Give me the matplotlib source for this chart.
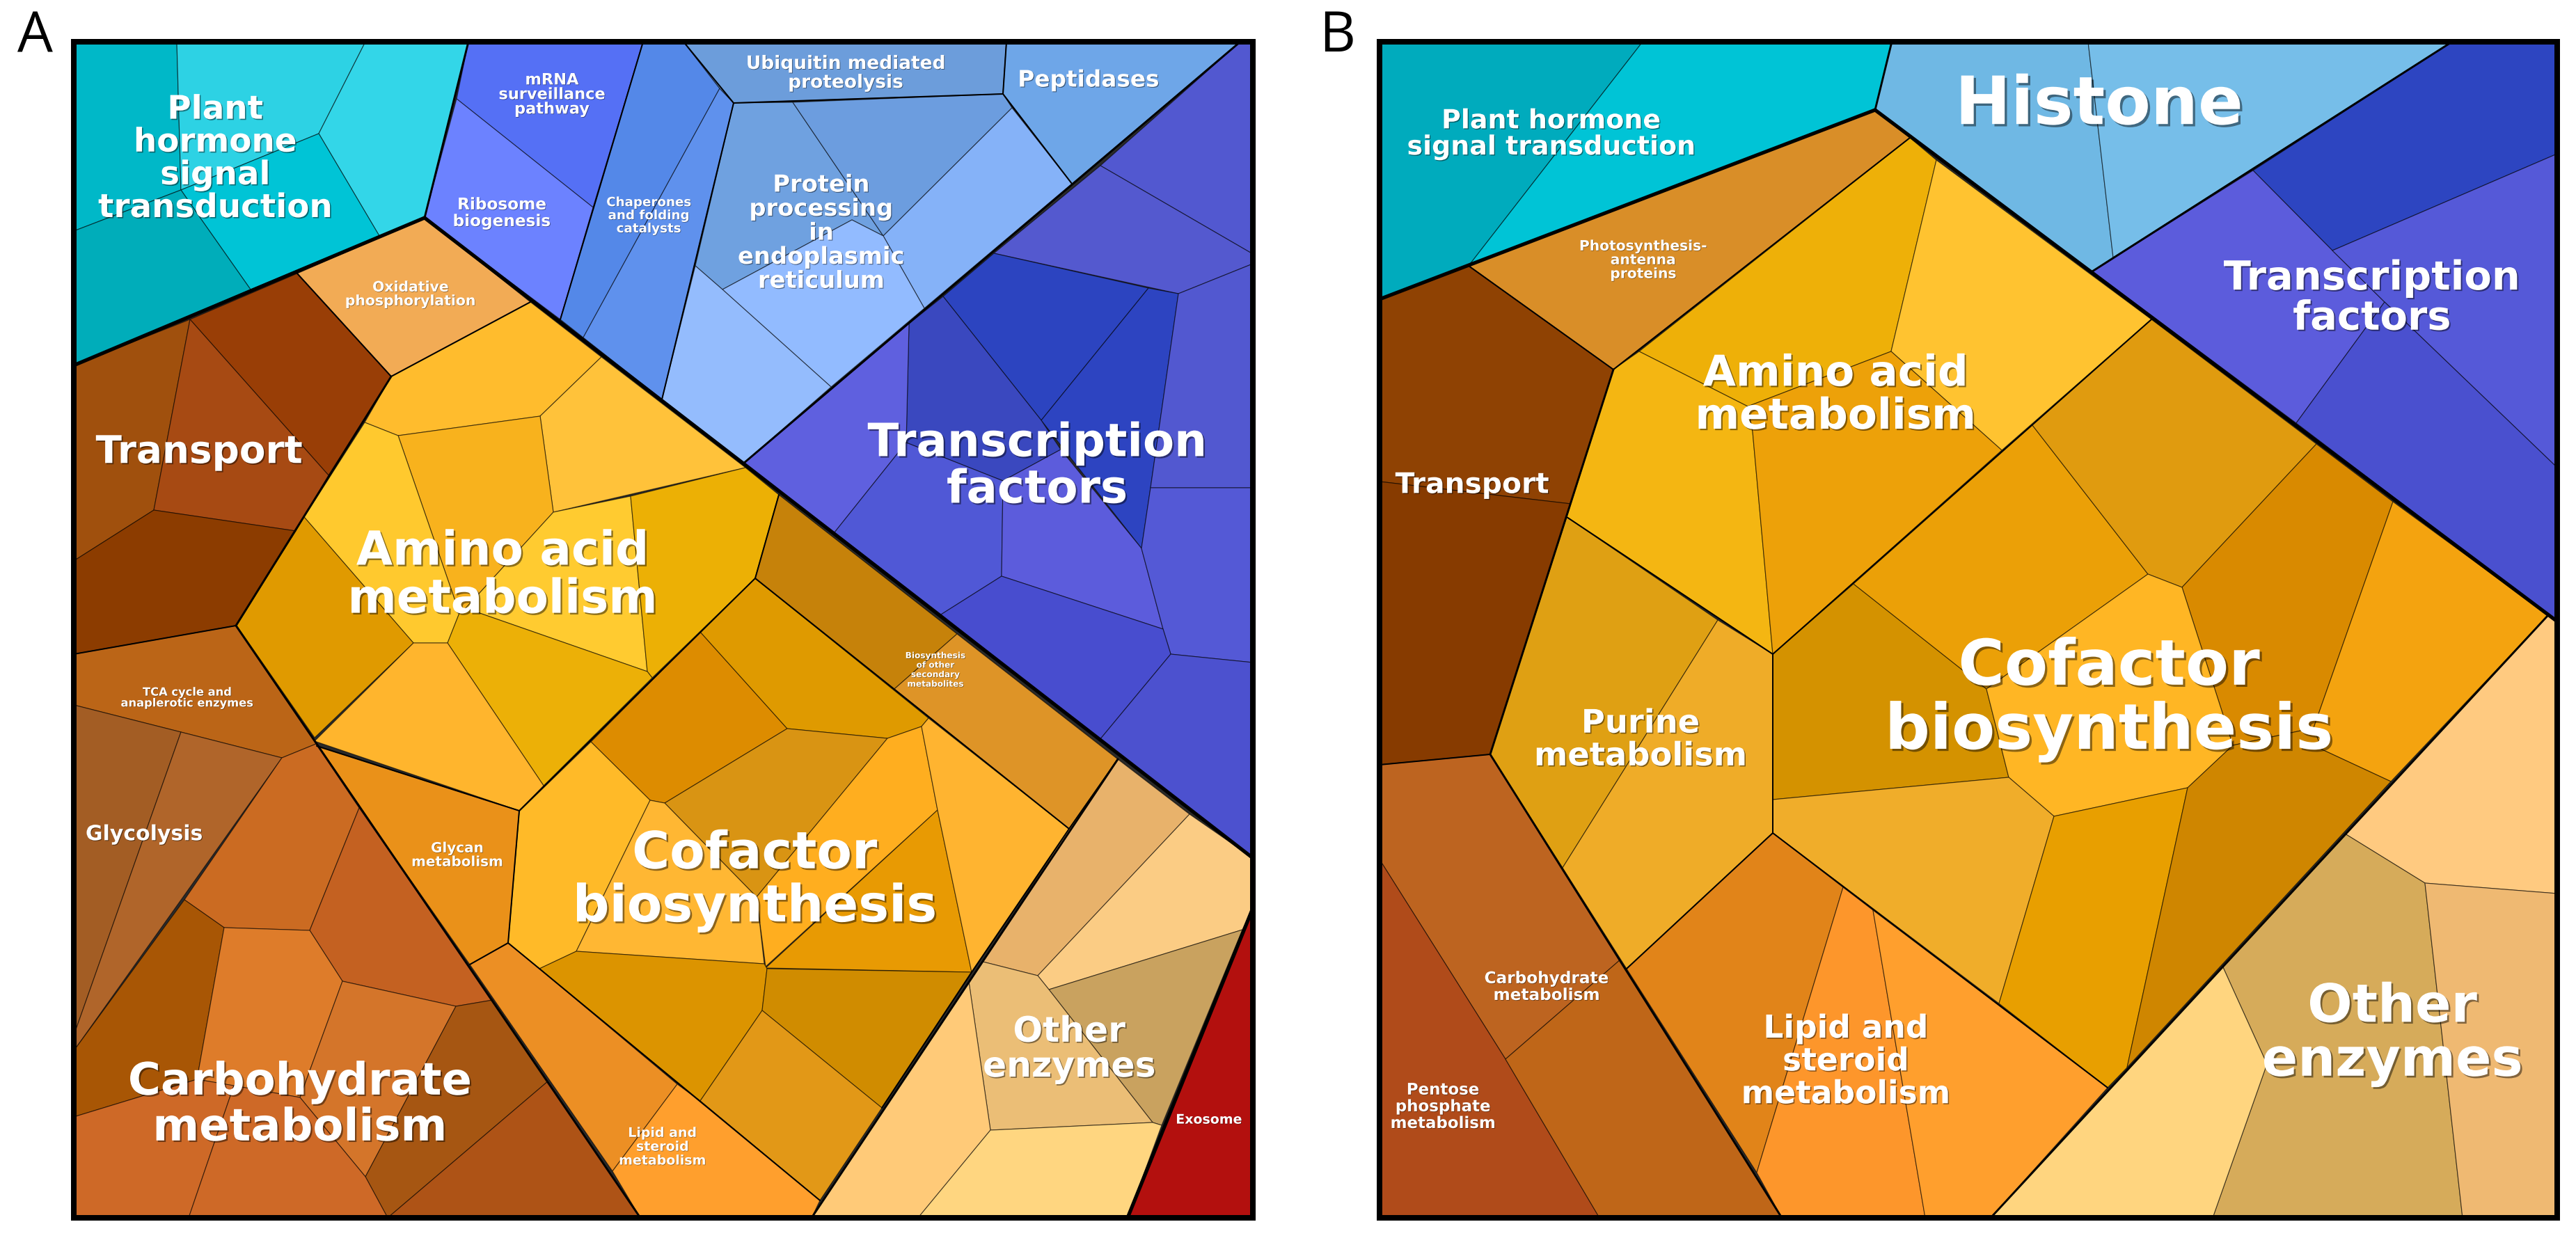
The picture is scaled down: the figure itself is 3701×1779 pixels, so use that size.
import matplotlib
matplotlib.use('Agg')
import matplotlib.pyplot as plt
import matplotlib.patheffects as pe

W, H = 3701, 1779

# --- Painel A: celulas do voronoi treemap (coordenadas)
a_cells = [
    # plant hormone
    [(106,60),(254,60),(260,273),(106,332)],
    [(254,60),(525,60),(458,192),(260,273)],
    [(525,60),(673,60),(610,313),(545,339),(458,192)],
    [(458,192),(545,339),(360,416),(289,315),(260,273)],
    [(106,332),(260,273),(289,315),(360,416),(106,525)],
    # mRNA, ribosome, chaperones
    [(673,60),(924,60),(852,298),(656,142)],
    [(656,142),(852,298),(805,459),(610,313)],
    [(924,60),(982,60),(1034,127),(838,485),(805,459)],
    [(1034,127),(1054,148),(951,574),(838,485)],
    # ubiquitin, peptidases
    [(982,60),(1446,60),(1441,135),(1054,148),(1034,127)],
    [(1446,60),(1782,60),(1540,264),(1441,135)],
    # protein processing
    [(1054,148),(1139,147),(1269,339),(1224,316),(1038,416),(999,382)],
    [(1139,147),(1441,135),(1454,155),(1269,339)],
    [(1454,155),(1540,264),(1328,443),(1269,339)],
    [(1224,316),(1269,339),(1328,443),(1194,556),(1038,416)],
    [(999,382),(1038,416),(1194,556),(1068,666),(951,574)],
    # transcription factors
    [(1782,60),(1800,60),(1800,365),(1581,238)],
    [(1581,238),(1800,365),(1800,379),(1693,422),(1428,364)],
    [(1428,364),(1650,414),(1496,604),(1355,426)],
    [(1650,414),(1693,422),(1653,701),(1640,788),(1496,604)],
    [(1693,422),(1800,379),(1800,701),(1653,701)],
    [(1306,465),(1355,426),(1496,604),(1524,646),(1441,691),(1302,636)],
    [(1068,666),(1306,465),(1302,636),(1199,765)],
    [(1302,636),(1441,691),(1439,828),(1352,883),(1199,765)],
    [(1524,646),(1640,788),(1671,904),(1439,828),(1441,691)],
    [(1653,701),(1800,701),(1800,952),(1682,940),(1671,904),(1640,788)],
    [(1352,883),(1439,828),(1671,904),(1682,940),(1580,1063)],
    [(1682,940),(1800,952),(1800,1233),(1580,1063)],
    # oxidative
    [(610,313),(427,393),(562,541),(762,434)],
    # amino acid
    [(562,541),(762,434),(864,513),(776,598),(572,626),(524,607)],
    [(864,513),(1071,672),(795,736),(776,598)],
    [(572,626),(776,598),(795,736),(669,874),(660,881)],
    [(524,607),(572,626),(660,881),(643,924),(594,924),(437,743)],
    [(795,736),(906,713),(930,965),(669,874)],
    [(906,713),(1071,672),(1119,711),(1085,831),(937,974),(930,965)],
    [(660,881),(669,874),(930,965),(937,974),(781,1129),(643,924)],
    [(437,743),(594,924),(452,1060),(340,899)],
    [(594,924),(643,924),(781,1129),(746,1165),(452,1065)],
    # cofactor
    [(1006,908),(1131,1047),(955,1154),(934,1150),(849,1066)],
    [(1085,831),(1334,1032),(1324,1044),(1275,1061),(1131,1047),(1006,908)],
    [(1131,1047),(1275,1061),(1087,1289),(955,1154)],
    [(1275,1061),(1324,1044),(1347,1164),(1100,1389),(1089,1305),(1087,1289)],
    [(1347,1164),(1396,1397),(1100,1391)],
    [(1324,1044),(1334,1032),(1536,1191),(1396,1397),(1347,1164)],
    [(849,1066),(934,1150),(828,1367),(775,1392),(730,1355),(746,1166)],
    [(934,1150),(955,1154),(1087,1289),(1089,1305),(1098,1385),(828,1367)],
    [(775,1392),(828,1367),(1098,1385),(1102,1392),(1095,1452),(1006,1582)],
    [(1102,1392),(1396,1397),(1267,1592),(1095,1452)],
    [(1095,1452),(1267,1592),(1178,1725),(1006,1582)],
    # biosynthesis of other secondary metabolites
    [(1119,711),(1375,911),(1285,990),(1085,831)],
    [(1375,911),(1606,1091),(1536,1191),(1285,990)],
    # glycan, lipid
    [(455,1072),(746,1165),(730,1355),(675,1386)],
    [(675,1386),(730,1355),(775,1392),(973,1558),(880,1683)],
    [(973,1558),(1006,1582),(1178,1725),(1166,1750),(920,1750),(880,1683)],
    # other enzymes
    [(1606,1091),(1709,1170),(1491,1402),(1412,1382),(1536,1191)],
    [(1709,1170),(1800,1233),(1800,1305),(1785,1336),(1507,1422),(1491,1402)],
    [(1507,1422),(1785,1336),(1669,1617),(1656,1613)],
    [(1412,1382),(1491,1402),(1507,1422),(1656,1613),(1423,1624),(1392,1411)],
    [(1392,1411),(1423,1624),(1319,1750),(1166,1750)],
    [(1423,1624),(1656,1613),(1669,1617),(1620,1750),(1319,1750)],
    # exosome
    [(1800,1305),(1800,1750),(1620,1750)],
    # transport
    [(106,525),(273,459),(221,733),(106,806)],
    [(273,459),(427,393),(562,541),(472,683)],
    [(273,459),(472,683),(425,763),(221,733)],
    [(106,806),(221,733),(425,763),(339,899),(106,940)],
    # carbohydrate, TCA, glycolysis
    [(106,940),(339,899),(454,1069),(405,1089),(260,1052),(106,1013)],
    [(106,1013),(260,1052),(106,1488)],
    [(260,1052),(405,1089),(106,1510),(106,1488)],
    [(405,1089),(454,1069),(516,1161),(445,1337),(322,1333),(265,1293)],
    [(516,1161),(708,1437),(655,1446),(492,1410),(445,1337)],
    [(106,1510),(265,1293),(322,1333),(283,1551),(106,1605)],
    [(322,1333),(445,1337),(492,1410),(431,1577),(283,1551)],
    [(492,1410),(655,1446),(525,1691),(431,1577)],
    [(655,1446),(708,1437),(787,1554),(557,1750),(525,1691)],
    [(787,1554),(920,1750),(557,1750)],
    [(106,1605),(283,1551),(336,1560),(271,1750),(106,1750)],
    [(336,1560),(431,1577),(525,1691),(557,1750),(271,1750)],
]
a_fills = [
    '#00b8c8','#2dd2e4','#33d6e8','#00c4d6','#00adba',
    '#5570f5','#6c82ff','#5488e8','#5f91ed',
    '#6c9ddb','#6ea6e8',
    '#6fa1e0','#6c9ddf','#85b2f8','#92bbff','#94bcfd',
    '#5258d0','#5459cf','#2c44c0','#2d44c1','#5258d0','#3a48bf','#5f60df','#5058d6',
    '#5c5cdc','#5459d6','#484dcf','#4c51cf',
    '#f2ab55',
    '#ffbc2d','#ffc23a','#f8b21d','#ffc92e','#ffcb30','#ecb005','#ecb007','#e09a00','#ffb52d',
    '#dd8c00','#df9a00','#d99413','#ffae1f','#e89a03','#ffb430','#ffba28','#ffb733','#dc9400','#d08c00','#e29817',
    '#c6820a','#de9427',
    '#ea9119','#ec8f24','#ff9f2d',
    '#e8b26b','#fbcc84','#c9a25f','#ebbe76','#ffca78','#ffd680',
    '#b3100e',
    '#a0500d','#993e06','#a74a13','#8c3c00',
    '#bb6517','#a35d24','#b0652a','#cb6b22','#c46121','#a85605','#de7c2a','#d4752a','#a65612','#ae5316','#ce6927','#ce6927',
]
a_thick = [
    [(106,525),(610,313)],
    [(610,313),(1068,666),(1800,1233)],
    [(1800,1305),(1620,1750)],
]
a_semi = [
    [(610,313),(673,60)],
    [(1782,60),(1068,666)],
    [(1606,1091),(1166,1750)],
    [(562,541),(339,899),(920,1750)],
]
a_medium = [
    [(427,393),(562,541),(762,434)],
    [(339,899),(106,940)],
    [(1119,711),(1085,831),(746,1165),(455,1072)],
    [(1085,831),(1536,1191),(1606,1091)],
    [(746,1165),(730,1355),(775,1392),(1178,1725)],
    [(730,1355),(675,1386)],
    [(1536,1191),(1396,1397),(1267,1592)],
    [(924,60),(805,459)],
    [(1054,148),(951,574)],
    [(982,60),(1054,148),(1441,135),(1540,264)],
    [(1441,135),(1446,60)],
]
a_names = ['Plant\nhormone\nsignal\ntransduction','mRNA\nsurveillance\npathway','Ribosome\nbiogenesis',
           'Chaperones\nand folding\ncatalysts','Ubiquitin mediated\nproteolysis','Peptidases',
           'Protein\nprocessing\nin\nendoplasmic\nreticulum','Oxidative\nphosphorylation','Transport',
           'Transcription\nfactors','Amino acid\nmetabolism','TCA cycle and\nanaplerotic enzymes','Glycolysis',
           'Glycan\nmetabolism','Cofactor\nbiosynthesis','Biosynthesis\nof other\nsecondary\nmetabolites',
           'Lipid and\nsteroid\nmetabolism','Other\nenzymes','Exosome','Carbohydrate\nmetabolism']
a_name_x = [309,793,721,932,1215,1564,1180,590,286,1490,722,269,207,657,1084,1344,952,1536,1737,431]
a_name_y = [226,135,305,309,104,113,333,422,647,667,823,1002,1197,1228,1261,962,1647,1505,1608,1584]
a_name_pt = [33.3,16,16.5,13,18.8,23.3,24,14.5,39,46.8,48,11.6,21.3,14.2,52.4,8.6,13.5,35.8,13.5,45.6]

# --- Painel B
b_cells = [
    [(1982,60),(2360,60),(2110,382),(1982,430)],
    [(2360,60),(2718,60),(2694,158),(2110,382)],
    [(2718,60),(3000,60),(3036,370),(3006,390),(2694,158)],
    [(3000,60),(3523,60),(3036,370)],
    [(3523,60),(3674,60),(3674,221),(3351,360),(3237,245)],
    [(3006,390),(3237,245),(3351,360),(3426,434),(3299,608)],
    [(3351,360),(3674,221),(3674,672),(3426,434)],
    [(3426,434),(3674,672),(3674,893),(3299,608)],
    [(2110,382),(2694,158),(2744,198),(2318,531)],
    [(1982,430),(2110,382),(2318,531),(2257,724),(1982,692)],
    [(1982,692),(2257,724),(2141,1084),(1982,1099)],
    [(1982,1099),(2141,1084),(2328,1379),(2163,1522),(1982,1235)],
    [(1982,1235),(2163,1522),(2298,1750),(1982,1750)],
    [(2328,1379),(2560,1750),(2298,1750),(2163,1522)],
    [(2744,198),(2782,230),(2717,505),(2511,584),(2355,505)],
    [(2782,230),(3091,459),(2876,647),(2717,505)],
    [(2355,505),(2511,584),(2518,620),(2547,940),(2251,743),(2318,531)],
    [(2511,584),(2717,505),(2876,647),(2547,940),(2518,620)],
    [(2251,743),(2468,891),(2245,1247),(2141,1084)],
    [(2468,891),(2547,940),(2547,1197),(2337,1392),(2245,1247)],
    [(2547,940),(2663,839),(2854,990),(2886,1117),(2547,1149)],
    [(2663,839),(2920,611),(3086,825),(2854,990)],
    [(2920,611),(3091,459),(3328,638),(3135,844),(3086,825)],
    [(3328,638),(3438,721),(3324,1046),(3208,1071),(3135,844)],
    [(3438,721),(3661,884),(3435,1123),(3336,1077),(3324,1046)],
    [(2854,990),(3086,825),(3135,844),(3208,1071),(3143,1132),(2951,1173),(2886,1117)],
    [(2547,1149),(2886,1117),(2951,1173),(2872,1442),(2547,1197)],
    [(2951,1173),(3143,1132),(3056,1534),(3028,1563),(2872,1442)],
    [(3143,1132),(3208,1071),(3324,1046),(3336,1077),(3435,1123),(3056,1534)],
    [(2547,1197),(2648,1275),(2524,1685),(2337,1392)],
    [(2648,1275),(2691,1308),(2766,1750),(2560,1750),(2524,1685)],
    [(2691,1308),(3028,1563),(2860,1750),(2766,1750)],
    [(3661,884),(3674,893),(3674,1284),(3484,1269),(3369,1198)],
    [(3369,1198),(3484,1269),(3538,1750),(3179,1750),(3257,1529),(3193,1388)],
    [(3484,1269),(3674,1284),(3674,1750),(3538,1750)],
    [(3193,1388),(3257,1529),(3179,1750),(2860,1750)],
]
b_fills = [
    '#00abbd','#00c4d6','#6fb8e4','#76bee9','#2d45c1','#5c5cdc','#5559d8','#4a50cf',
    '#d98e28','#8f4203','#873b00','#bd6420','#b04b1a','#bf6618',
    '#eeb008','#ffc330','#f4b612','#eda109','#dfa013','#efac28',
    '#d49200','#eba007','#e09b0f','#d98a00','#f4a30f','#ffb624','#f0ad2a','#e89f00','#cf8600',
    '#e18419','#fd962b','#ff9f2d',
    '#ffca80','#d6ab5a','#efb972','#ffd57f',
]
b_thick = [
    [(1982,430),(2694,158)],
    [(2694,158),(3674,893)],
]
b_semi = [
    [(2694,158),(2718,60)],
    [(3523,60),(3006,390)],
    [(3661,884),(2860,1750)],
    [(2318,531),(2141,1084),(2560,1750)],
]
b_medium = [
    [(2110,382),(2318,531),(2744,198)],
    [(2141,1084),(1982,1099)],
    [(3091,459),(2547,940),(2547,1197),(2337,1392)],
    [(2547,1197),(3028,1563)],
    [(2251,743),(2547,940)],
]
b_names = ['Plant hormone\nsignal transduction','Histone','Photosynthesis-\nantenna\nproteins','Transcription\nfactors',
           'Amino acid\nmetabolism','Transport','Purine\nmetabolism','Cofactor\nbiosynthesis','Carbohydrate\nmetabolism',
           'Pentose\nphosphate\nmetabolism','Lipid and\nsteroid\nmetabolism','Other\nenzymes']
b_name_x = [2228,3016,2361,3408,2637,2115,2357,3030,2222,2073,2652,3437]
b_name_y = [191,146,373,426,565,695,1061,1000,1417,1589,1523,1482]
b_name_pt = [27,68,14.4,40.9,43.5,29,33,64.5,16.5,16.3,32.4,54]

px = 72 / 100  # pontos por pixel com dpi=100


def draw_panel(fig, box, cells, fills, thick, semi, medium, names, nx, ny, npt):
    x0, y0, x1, y1 = box
    ax = fig.add_axes([x0 / W, 1 - y1 / H, (x1 - x0) / W, (y1 - y0) / H])
    ax.set_xlim(x0, x1)
    ax.set_ylim(y1, y0)
    ax.set_xticks([])
    ax.set_yticks([])
    ax.set_facecolor('#2a2a2a')  # esconde as frestas entre celulas
    for s in ax.spines.values():
        s.set_linewidth(8 * px)
        s.set_zorder(6)
    for cell, fc in zip(cells, fills):
        xs, ys = zip(*cell)
        ax.fill(xs, ys, facecolor=fc, edgecolor=(0, 0, 0, 0.55), linewidth=1.2 * px, zorder=1)
    for lines, lw in ((medium, 2.0), (semi, 2.9), (thick, 5.2)):
        for line in lines:
            xs, ys = zip(*line)
            ax.plot(xs, ys, color='black', lw=lw * px, zorder=2, solid_capstyle='round')
    for name, x, y, pt in zip(names, nx, ny, npt):
        off = max(0.5, pt * 0.035)
        size = pt * 1.012
        ax.text(x, y + 0.06 * size / px, name, ha='center', va='center', ma='center', fontsize=size,
                fontweight='bold', color='white', linespacing=1.06, family='DejaVu Sans', zorder=5,
                path_effects=[pe.withSimplePatchShadow(offset=(off, -off), shadow_rgbFace='black', alpha=0.45)])
    return ax


fig = plt.figure(figsize=(W / 100, H / 100), dpi=100, facecolor='white')
draw_panel(fig, (106, 60, 1800, 1750), a_cells, a_fills, a_thick, a_semi, a_medium,
           a_names, a_name_x, a_name_y, a_name_pt)
draw_panel(fig, (1982, 60, 3674, 1750), b_cells, b_fills, b_thick, b_semi, b_medium,
           b_names, b_name_x, b_name_y, b_name_pt)

fig.text(50 / W, 1 - 53 / H, 'A', fontsize=58, family='Open Sans', ha='center', va='center')
fig.text(1921 / W, 1 - 53 / H, 'B', fontsize=58, family='Open Sans', ha='center', va='center')

fig.savefig('out.png', dpi=100)
